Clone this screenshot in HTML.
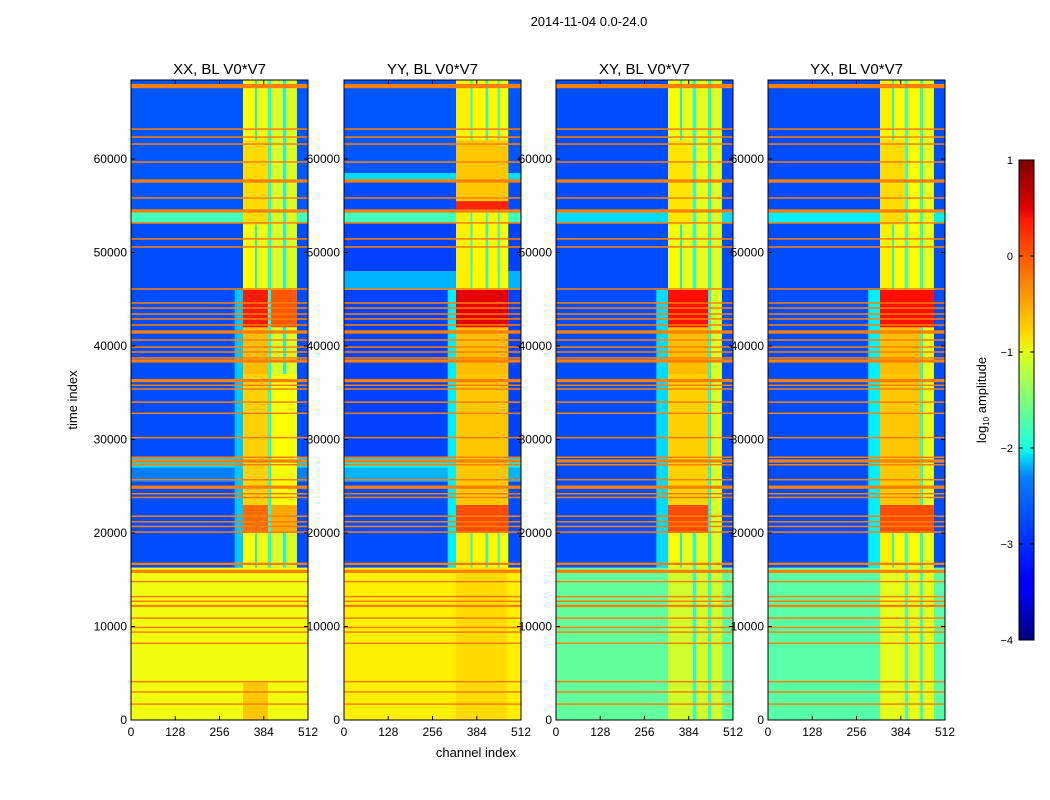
<!DOCTYPE html>
<html><head><meta charset="utf-8">
<style>
html,body{margin:0;padding:0;background:#fff;}
svg{display:block;font-family:"Liberation Sans","DejaVu Sans",sans-serif;}
</style></head>
<body>
<svg id="fig" width="1050" height="800" viewBox="0 0 1050 800" xmlns="http://www.w3.org/2000/svg">
<rect width="1050" height="800" fill="#fff"/>
<text x="589" y="26" font-size="13" text-anchor="middle">2014-11-04 0.0-24.0</text>
<text transform="translate(77,400) rotate(-90)" font-size="13" text-anchor="middle">time index</text>
<text x="476" y="757" font-size="13" text-anchor="middle">channel index</text>
<g id="panels"></g>
<defs><linearGradient id="jet" x1="0" y1="1" x2="0" y2="0">
<stop offset="0" stop-color="#00007f"/><stop offset="0.11" stop-color="#0000ff"/><stop offset="0.125" stop-color="#0000ff"/>
<stop offset="0.34" stop-color="#0080ff"/><stop offset="0.375" stop-color="#00ccff"/><stop offset="0.4" stop-color="#1affe0"/>
<stop offset="0.5" stop-color="#7dff7a"/><stop offset="0.6" stop-color="#e0ff17"/><stop offset="0.64" stop-color="#ffd700"/>
<stop offset="0.75" stop-color="#ff8000"/><stop offset="0.875" stop-color="#ff1a00"/><stop offset="0.9" stop-color="#e00000"/><stop offset="1" stop-color="#7f0000"/>
</linearGradient></defs>
<rect x="1019" y="160" width="15" height="480" fill="url(#jet)" stroke="#000" stroke-width="1"/>
<g id="cbticks"></g>
<text transform="translate(986,400) rotate(-90)" font-size="13" text-anchor="middle">log<tspan font-size="8" dy="3">10</tspan><tspan dy="-3"> amplitude</tspan></text>
</svg>
<script>
// ---- data ----
const panelTitles = ["XX, BL V0*V7","YY, BL V0*V7","XY, BL V0*V7","YX, BL V0*V7"];
const xTicks = [0,128,256,384,512];
const yTicks = [0,10000,20000,30000,40000,50000,60000];
const cbTicks = [1,0,-1,-2,-3,-4];
// background segments per panel: [t0, t1, log10 value]
const bgXX = [[0,16300,-0.95],[16300,25500,-3.0],[25500,27000,-2.75],[27000,28000,-2.3],[28000,53200,-3.0],[53200,54400,-1.8],[54400,68450,-2.95]];
const bgYY = [[0,16300,-0.8],[16300,25500,-3.0],[25500,27000,-2.5],[27000,28000,-2.2],[28000,46000,-3.05],[46000,48000,-2.5],[48000,53200,-3.05],[53200,54400,-1.8],[54400,57500,-3.0],[57500,58500,-2.3],[58500,68450,-2.95]];
const bgXY = [[0,16300,-1.65],[16300,53200,-3.0],[53200,54400,-2.3],[54400,68450,-3.0]];
const bgYX = [[0,16300,-1.7],[16300,53200,-3.0],[53200,54400,-2.2],[54400,68450,-3.0]];
// column bands [ch0, ch1, t0, t1, value]
const bandsXX = [[300,324,16300,46000,-2.4],[324,480,0,16300,-0.95],[359,364,16300,68450,-2.1],[396,405,16300,68450,-2.0],[440,448,16300,68450,-2.1],
 [324,359,16300,68450,-0.9],[364,396,16300,68450,-0.95],[405,440,16300,68450,-1.05],[448,480,16300,68450,-1.05],
 [324,396,20000,23000,-0.15],[405,480,20000,23000,-0.45],[324,396,23000,37000,-0.65],[405,480,23000,37000,-0.9],
 [324,396,37000,42000,-0.55],[324,396,42000,46000,0.25],[405,480,42000,46000,-0.05],[324,396,53000,62000,-0.7],[324,396,0,4000,-0.6]];
const bandsYY = [[300,324,16300,46000,-2.2],[324,470,0,16300,-0.7],[366,371,16300,68450,-2.0],[410,416,16300,68450,-2.0],[445,450,16300,68450,-2.0],
 [324,366,16300,68450,-0.8],[371,410,16300,68450,-0.85],[416,445,16300,68450,-0.85],[450,475,16300,68450,-0.9],
 [324,475,20000,23000,0.0],[324,475,23000,37000,-0.6],[324,475,37000,42000,-0.55],[324,475,42000,46000,0.5],[324,475,54500,55500,0.2],[324,475,55500,62000,-0.6]];
const bandsXY = [[290,324,16300,46000,-2.3],[324,480,0,16300,-1.1],[359,364,16300,68450,-2.1],[396,405,0,68450,-2.0],[440,448,0,68450,-2.0],
 [324,359,16300,68450,-0.9],[364,396,16300,68450,-1.0],[405,440,16300,68450,-1.0],[448,480,16300,68450,-1.05],
 [324,440,20000,23000,0.0],[324,440,23000,37000,-0.65],[324,440,37000,42000,-0.55],[324,440,42000,46000,0.3],[324,396,53000,62000,-0.75]];
const bandsYX = [[290,324,16300,46000,-2.2],[324,480,0,16300,-1.0],[359,364,16300,68450,-2.0],[396,405,0,68450,-1.8],[440,448,0,68450,-1.9],
 [324,359,16300,68450,-0.8],[364,396,16300,68450,-0.9],[405,440,16300,68450,-0.9],[448,480,16300,68450,-1.0],
 [324,480,20000,23000,0.0],[324,440,23000,37000,-0.6],[324,440,37000,42000,-0.55],[324,480,42000,46000,0.3],[324,396,53000,62000,-0.7]];
// flagged (orange) time rows [time, width]
const flagTimes = [1700,3000,4100,8200,9400,9900,10900,12200,12700,13200,14800,15900,16700,20100,20700,21200,21800,23800,24200,24900,25700,27300,27700,28100,30200,32800,34000,35400,35800,36300,38400,38720,39360,39890,40640,41500,42250,42890,43420,44060,44600,46100,50590,51450,53160,54440,55830,57650,59680,61600,62350,63200,67800];
const flagWidths = [150,150,150,150,150,150,150,250,150,150,150,350,250,150,150,150,150,150,150,350,150,150,350,150,150,150,150,150,150,350,350,150,150,150,150,350,150,150,150,150,150,150,150,150,150,350,150,350,150,150,150,150,450];
const flagValue = -0.25;

const bgs = [bgXX,bgYY,bgXY,bgYX];
const bands = [bandsXX,bandsYY,bandsXY,bandsYX];
const lefts = [131,344,556,768];
const PW = 177, TOP = 80, BOT = 720, TMAX = 68450;
const NS = "http://www.w3.org/2000/svg";

function jet(v){
  const t = Math.max(0, Math.min(1, (v + 4) / 5));
  const c = x => Math.round(255 * Math.max(0, Math.min(1, x)));
  return `rgb(${c(1.5-Math.abs(4*t-3))},${c(1.5-Math.abs(4*t-2))},${c(1.5-Math.abs(4*t-1))})`;
}
function yOf(t){ return BOT - t / TMAX * (BOT - TOP); }
function mk(tag, attrs, parent){ const e = document.createElementNS(NS, tag); for (const k in attrs) e.setAttribute(k, attrs[k]); parent.appendChild(e); return e; }

const root = document.getElementById('panels');
panelTitles.forEach((title, p) => {
  const L = lefts[p];
  const xOf = ch => L + ch / 512 * PW;
  const g = mk('g', {}, root);
  
  
  bgs[p].forEach(s => {
    const r = mk('rect', {x: L, y: yOf(s[1]), width: PW, height: yOf(s[0]) - yOf(s[1]), fill: jet(s[2])}, g);
    
    
  });
  bands[p].forEach(b => {
    const r = mk('rect', {x: xOf(b[0]), y: yOf(b[3]), width: xOf(b[1]) - xOf(b[0]), height: yOf(b[2]) - yOf(b[3]), fill: jet(b[4])}, g);
    
    
  });
  flagTimes.forEach((t, i) => {
    const h = Math.max(1.5, flagWidths[i] / TMAX * (BOT - TOP));
    const r = mk('rect', {x: L, y: yOf(t) - h / 2, width: PW, height: h, fill: jet(flagValue)}, g);
    
    
  });
  const fr = mk('rect', {x: L, y: TOP, width: PW, height: BOT - TOP, fill: 'none', stroke: '#000', 'stroke-width': 1}, g);
  
  
  const tt = mk('text', {x: L + PW / 2, y: 74, 'font-size': 15, 'text-anchor': 'middle'}, g);
  tt.textContent = title;
  
  
  xTicks.forEach(v => {
    const x = xOf(v);
    mk('line', {x1: x, x2: x, y1: BOT, y2: BOT - 4, stroke: '#000'}, g);
    mk('line', {x1: x, x2: x, y1: TOP, y2: TOP + 4, stroke: '#000'}, g);
    const t = mk('text', {x: x, y: BOT + 16, 'font-size': 12, 'text-anchor': 'middle'}, g);
    t.textContent = v;
    
    
  });
  yTicks.forEach(v => {
    const y = yOf(v);
    mk('line', {x1: L, x2: L + 4, y1: y, y2: y, stroke: '#000'}, g);
    mk('line', {x1: L + PW, x2: L + PW - 4, y1: y, y2: y, stroke: '#000'}, g);
    const t = mk('text', {x: L - 4, y: y + 4, 'font-size': 12, 'text-anchor': 'end'}, g);
    t.textContent = v;
    
    
  });
});
const cb = document.getElementById('cbticks');
cbTicks.forEach(v => {
  const y = 160 + (1 - v) / 5 * 480;
  mk('line', {x1: 1019, x2: 1023, y1: y, y2: y, stroke: '#000'}, cb);
  mk('line', {x1: 1034, x2: 1030, y1: y, y2: y, stroke: '#000'}, cb);
  const t = mk('text', {x: 1013, y: y + 4, 'font-size': 11, 'text-anchor': 'end'}, cb);
  t.textContent = v < 0 ? '\u2212' + (-v) : v;
  
  
});
</script>
</body></html>
